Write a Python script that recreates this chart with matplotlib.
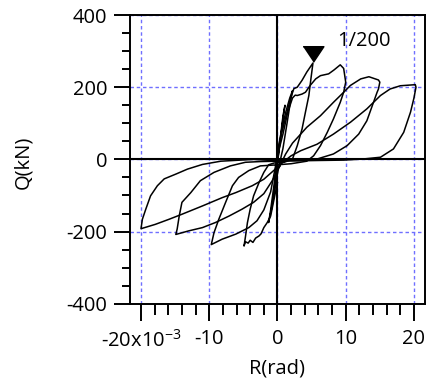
import matplotlib
matplotlib.use("Agg")
import matplotlib.pyplot as plt
from matplotlib.ticker import MultipleLocator

plt.rcParams['font.family'] = ['Open Sans', 'DejaVu Sans']
plt.rcParams['mathtext.default'] = 'regular'
plt.rcParams['axes.unicode_minus'] = False

# story drift R (x10^-3 rad) and shear Q (kN), one closed loop per cycle
r_c1 = [0.0, 0.4, 0.8, 1.1, 0.8, 0.3, -0.2, -0.6, -0.9, -0.6, -0.2, 0.0]
q_c1 = [-10, 50, 110, 150, 120, 40, -40, -100, -140, -110, -60, -10]

r_c2 = [0.0, 0.6, 1.2, 1.8, 2.2, 1.9, 1.4, 0.8, 0.2, -0.4, -0.9, -1.3, -1.0, -0.5, 0.0]
q_c2 = [20, 80, 130, 170, 190, 160, 100, 30, -20, -80, -140, -175, -140, -70, 20]

r_c3 = [0.0, 0.4, 0.9, 1.4, 1.9, 2.4, 2.9, 3.6, 4.3, 5.2, 4.9, 4.6, 4.1, 3.6, 2.9, 2.2, 1.0,
        -0.5, -1.3, -2.0, -2.7, -3.5, -4.0, -4.4, -4.7, -4.9, -4.7, -4.3, -4.0, -3.6, -3.2,
        -2.7, -2.4, -2.0, -1.5, -1.0, -0.5, 0.0]
q_c3 = [19, 56, 94, 131, 168, 196, 200, 219, 242, 267, 223, 177, 131, 84, 38, 1, -8,
        -10, -15, -36, -64, -101, -138, -175, -215, -240, -228, -232, -224, -230, -218,
        -212, -206, -189, -175, -157, -110, -64]

r_c4 = [0.0, 0.8, 1.5, 2.2, 2.6, 2.9, 3.6, 4.1, 4.8, 5.6, 6.3, 7.5, 8.3, 9.2, 9.7, 10.0,
        9.7, 9.2, 8.2, 7.3, 6.3, 5.3, 4.3, 2.0, 0.0, -2.5, -4.2, -5.7, -6.6, -7.6, -8.6,
        -9.3, -9.7, -8.1, -6.1, -4.2, -3.0, -2.0, -1.0, 0.0]
q_c4 = [10, 70, 130, 170, 178, 177, 181, 186, 205, 223, 232, 237, 248, 262, 252, 214,
        186, 158, 112, 75, 38, 10, -5, -12, -15, -18, -31, -50, -73, -119, -166,
        -203, -236, -221, -207, -189, -170, -140, -90, 10]

r_c5 = [0.3, 1.2, 2.2, 3.4, 4.3, 6.3, 8.2, 9.7, 10.7, 12.2, 13.4, 14.8, 15.0, 14.8, 14.6,
        13.9, 13.1, 11.9, 10.2, 8.2, 5.8, 3.0, 0.0, -2.5, -4.7, -6.9, -9.3, -11.3, -12.7,
        -14.0, -14.4, -14.7, -14.9, -13.0, -11.0, -9.1, -7.1, -5.2, -3.5, -2.0, -0.8, 0.3]
q_c5 = [-20, 15, 45, 70, 89, 121, 158, 186, 205, 223, 229, 220, 214, 195, 186,
        149, 107, 70, 38, 15, 1, -3, -5, -6, -8, -18, -36, -59, -92,
        -119, -157, -193, -208, -198, -189, -175, -157, -138, -119, -95, -60, -20]

r_c6 = [1.0, 2.0, 3.4, 5.8, 8.2, 10.7, 13.1, 15.1, 16.5, 18.0, 20.2, 20.3, 20.0, 19.5,
        18.5, 17.0, 15.1, 12.5, 9.7, 6.0, 3.0, 0.0, -3.5, -8.3, -11.0, -13.2, -14.8, -16.6,
        -17.6, -18.6, -19.3, -19.8, -20.0, -17.9, -15.9, -14.0, -11.0, -8.1, -6.1, -3.7,
        -2.0, -0.5, 1.0]
q_c6 = [-5, 10, 24, 42, 70, 103, 140, 177, 195, 204, 207, 200, 170, 131,
        75, 29, 6, 1, -2, -3, -4, -4, 0, -5, -14, -27, -40, -54,
        -73, -101, -138, -166, -192, -180, -166, -152, -129, -106, -92, -73,
        -55, -30, -5]

cycles = [(r_c1, q_c1), (r_c2, q_c2), (r_c3, q_c3), (r_c4, q_c4), (r_c5, q_c5), (r_c6, q_c6)]

mark_r, mark_q = 5.2, 292
note_r, note_q = 8.8, 328
x_ticks = [-20, -10, 0, 10, 20]
x_labels = ['-20x10$^{-3}$', '-10', '0', '10', '20']
y_ticks = [-400, -200, 0, 200, 400]

fig = plt.figure(figsize=(4.38, 3.85), dpi=100)
ax = fig.add_axes([0.297, 0.211, 0.673, 0.750])

for r, q in cycles:
    ax.plot(r, q, color='black', lw=1.1, solid_joinstyle='round', zorder=3)

ax.axhline(0, color='black', lw=1.5, zorder=2)
ax.axvline(0, color='black', lw=1.5, zorder=2)

tri = [(-1, 0.75), (1, 0.75), (0, -0.75)]
ax.plot([mark_r], [mark_q], marker=tri, markersize=15, color='black', ls='none', zorder=4)
ax.text(note_r, note_q, '1/200', fontsize=14.5, ha='left', va='center')

ax.set_xlim(-21.6, 21.6)
ax.set_ylim(-400, 400)
ax.set_xticks(x_ticks, labels=x_labels)
ax.set_yticks(y_ticks)
ax.xaxis.set_minor_locator(MultipleLocator(2))
ax.yaxis.set_minor_locator(MultipleLocator(50))

ax.grid(True, which='major', color='#6f6fff', ls=(0, (2.5, 2.0)), lw=1.0)
ax.set_axisbelow(True)

ax.tick_params(which='both', direction='out', width=1.4, labelsize=14.5, top=False, right=False)
ax.tick_params(axis='x', which='major', length=12.5, pad=6)
ax.tick_params(axis='x', which='minor', length=8)
ax.tick_params(axis='y', which='major', length=11.5, pad=5)
ax.tick_params(axis='y', which='minor', length=5.5)
for s in ax.spines.values():
    s.set_linewidth(1.4)

ax.set_xlabel('R(rad)', fontsize=14.5)
ax.set_ylabel('Q(kN)', fontsize=14.5)
ax.xaxis.set_label_coords(0.5, -0.19)
ax.yaxis.set_label_coords(-0.33, 0.49)

fig.savefig('out.png', dpi=100)
